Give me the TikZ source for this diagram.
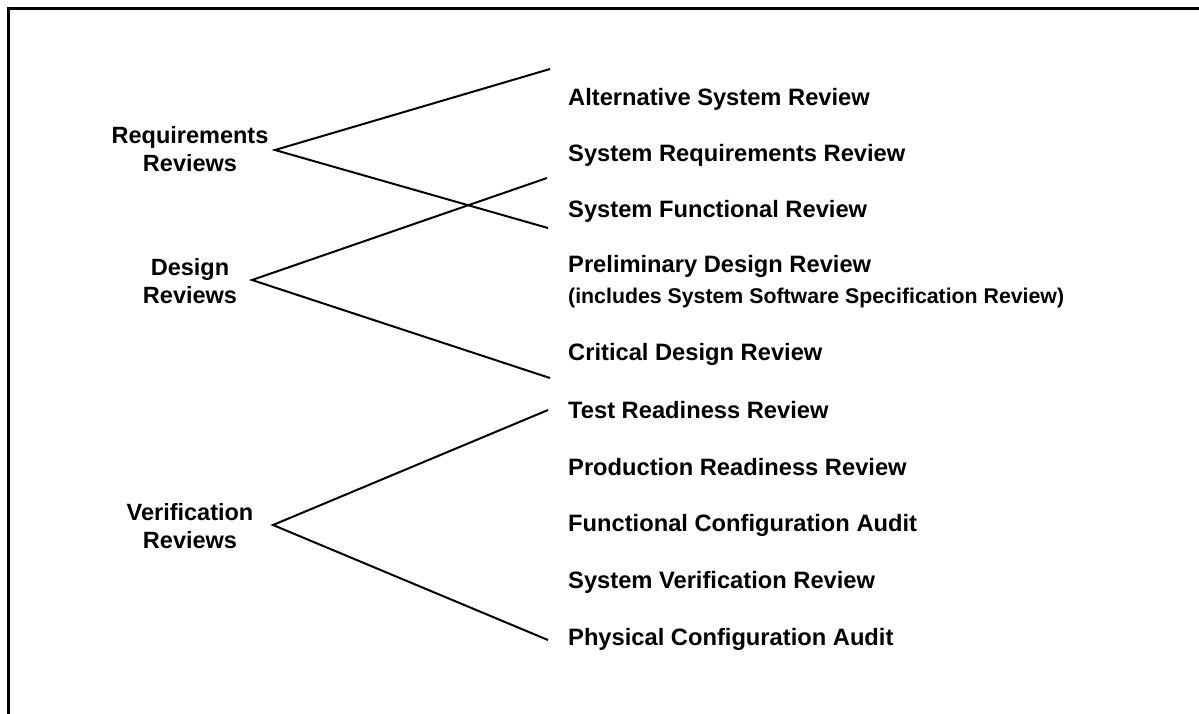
\documentclass[tikz,border=0pt]{standalone}
\usepackage{fontspec}
\setmainfont{Liberation Sans}
\begin{document}
\begin{tikzpicture}[x=1pt,y=-1pt,
  item/.style={anchor=base west,inner sep=0pt,font=\fontsize{23.7}{28}\selectfont\bfseries},
  subitem/.style={anchor=base west,inner sep=0pt,font=\fontsize{21.3}{25}\selectfont\bfseries},
  group/.style={align=center,inner sep=0pt,font=\fontsize{23.5}{28}\selectfont\bfseries},
  branch/.style={line width=2pt,line join=miter}]
\useasboundingbox (0,0) rectangle (1199,713);
\begin{scope}
\clip (0,0) rectangle (1199,713);
\draw[line width=3pt] (8.5,730) -- (8.5,8.5) -- (1220,8.5);
\end{scope}
% group labels
\node[group] (req) at (190,149) {Requirements\\Reviews};
\node[group] (des) at (190,281) {Design\\Reviews};
\node[group] (ver) at (190,526) {Verification\\Reviews};
% items
\node[item] (asr) at (568,105) {Alternative System Review};
\node[item] (srr) at (568,161) {System Requirements Review};
\node[item] (sfr) at (568,217) {System Functional Review};
\node[item] (pdr) at (568,272) {Preliminary Design Review};
\node[subitem] (ssr) at (568,303) {(includes System Software Specification Review)};
\node[item] (cdr) at (568,360) {Critical Design Review};
\node[item] (trr) at (568,418) {Test Readiness Review};
\node[item] (prr) at (568,475) {Production Readiness Review};
\node[item] (fca) at (568,531) {Functional Configuration Audit};
\node[item] (svr) at (568,588) {System Verification Review};
\node[item] (pca) at (568,645) {Physical Configuration Audit};
% branch points
\coordinate (ra) at (275,150);
\coordinate (ru) at (550,69);
\coordinate (rl) at (548,228);
\coordinate (da) at (252,280);
\coordinate (du) at (547,178);
\coordinate (dl) at (550,378);
\coordinate (va) at (273,525);
\coordinate (vu) at (548,410);
\coordinate (vl) at (548,640);
\draw[branch] (ru) -- (ra) -- (rl);
\draw[branch] (du) -- (da) -- (dl);
\draw[branch] (vu) -- (va) -- (vl);
\end{tikzpicture}
\end{document}
